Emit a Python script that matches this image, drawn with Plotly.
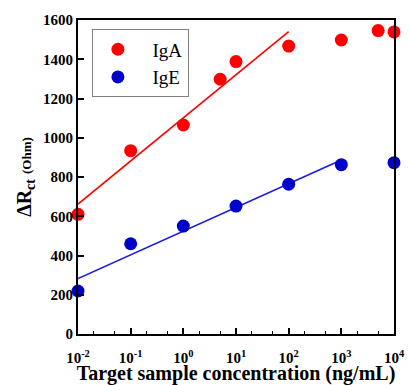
import numpy as np
import plotly.graph_objects as go

conc_iga = [0.01, 0.1, 1, 5, 10, 100, 1000, 5000, 10000]
rct_iga = [610, 934, 1065, 1298, 1388, 1467, 1498, 1546, 1539]
conc_ige = [0.01, 0.1, 1, 10, 100, 1000, 10000]
rct_ige = [219, 460, 550, 652, 763, 863, 873]

x_tickvals = [0.01, 0.1, 1, 10, 100, 1000, 10000]
x_ticktext = ["10<sup>-2</sup>", "10<sup>-1</sup>", "10<sup>0</sup>", "10<sup>1</sup>",
              "10<sup>2</sup>", "10<sup>3</sup>", "10<sup>4</sup>"]
y_tickvals = [0, 200, 400, 600, 800, 1000, 1200, 1400, 1600]

# linear fits over the linear ranges (log10 concentration)
iga_fit_n = 6   # first 6 points: 0.01..100 ng/mL
ige_fit_n = 6   # first 6 points: 0.01..1000 ng/mL
lx_a = np.log10(conc_iga[:iga_fit_n])
ka, ba = np.polyfit(lx_a, rct_iga[:iga_fit_n], 1)
lx_e = np.log10(conc_ige[:ige_fit_n])
ke, be = np.polyfit(lx_e, rct_ige[:ige_fit_n], 1)
fit_a_x = [conc_iga[0], conc_iga[iga_fit_n - 1]]
fit_a_y = [ka * np.log10(v) + ba for v in fit_a_x]
fit_e_x = [conc_ige[0], conc_ige[ige_fit_n - 1]]
fit_e_y = [ke * np.log10(v) + be for v in fit_e_x]

RED = "#ff0000"
BLUE = "#0000cc"
FONT = "Liberation Serif"
PAD = "\u00a0\u00a0"

fig = go.Figure()
fig.add_trace(go.Scatter(x=fit_a_x, y=fit_a_y, mode="lines", line=dict(color=RED, width=1.6),
                         showlegend=False, hoverinfo="skip"))
fig.add_trace(go.Scatter(x=fit_e_x, y=fit_e_y, mode="lines", line=dict(color="#1a1ae6", width=1.6),
                         showlegend=False, hoverinfo="skip"))
fig.add_trace(go.Scatter(x=conc_iga, y=rct_iga, mode="markers", name=PAD + "IgA",
                         marker=dict(color=RED, size=13), cliponaxis=False))
fig.add_trace(go.Scatter(x=conc_ige, y=rct_ige, mode="markers", name=PAD + "IgE",
                         marker=dict(color=BLUE, size=13), cliponaxis=False))

fig.update_layout(
    width=409, height=385,
    margin=dict(l=78, r=15, t=20, b=51),
    paper_bgcolor="white", plot_bgcolor="white",
    font=dict(family=FONT, color="black"),
    showlegend=True,
    legend=dict(x=0.044, y=0.97, xanchor="left", yanchor="top",
                bordercolor="#808080", borderwidth=1, bgcolor="white",
                font=dict(family=FONT, size=19, color="black"),
                itemwidth=40, tracegroupgap=0),
)
fig.update_xaxes(
    type="log", range=[-2, 4], automargin=False,
    tickvals=x_tickvals, ticktext=x_ticktext,
    tickfont=dict(family=FONT, size=15, color="black", weight="bold"),
    ticks="inside", ticklen=6, tickwidth=1.5, tickcolor="black",
    ticklabelstandoff=9,
    minor=dict(ticks="inside", ticklen=3, tickwidth=1, tickcolor="black"),
    showline=True, linecolor="black", linewidth=2, mirror=True,
    showgrid=False, zeroline=False,
    title=dict(text="<b>Target sample concentration (ng/mL)</b>",
               font=dict(family=FONT, size=20, color="black"), standoff=8),
)
fig.update_yaxes(
    range=[0, 1600], tickvals=y_tickvals, automargin=False,
    tickfont=dict(family=FONT, size=15, color="black", weight="bold"),
    ticks="inside", ticklen=6, tickwidth=1.5, tickcolor="black",
    showline=True, linecolor="black", linewidth=2, mirror=True,
    showgrid=False, zeroline=False,
    title=dict(text="<b>ΔR<sub>ct</sub> <span style='font-size:13px'>(Ohm)</span></b>",
               font=dict(family=FONT, size=20, color="black"), standoff=6),
)

fig.write_html("out.html", config={"displayModeBar": False},
               post_script="document.body.style.margin='0';")
